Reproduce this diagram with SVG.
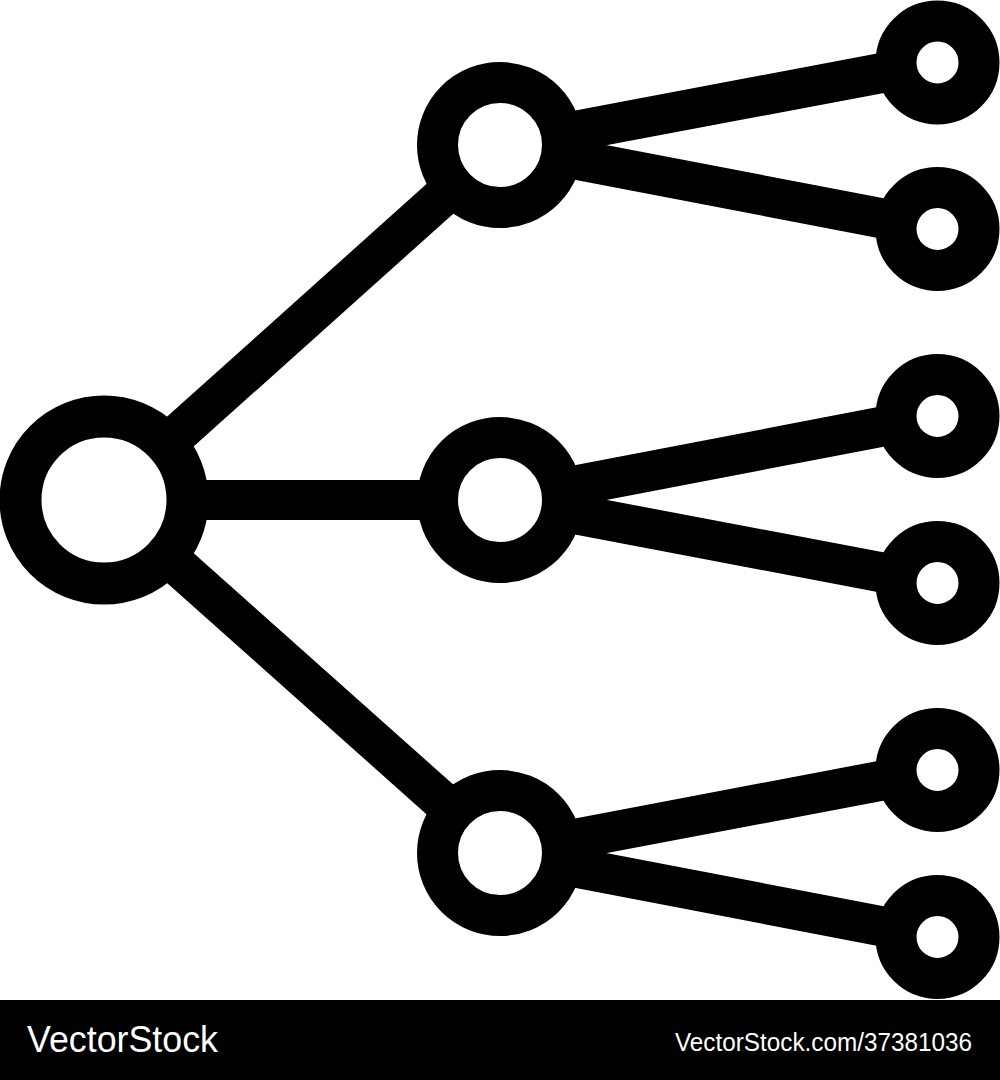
<svg xmlns="http://www.w3.org/2000/svg" width="1000" height="1080" viewBox="0 0 1000 1080">
<style>
.edge{stroke:#000;stroke-width:40;fill:none}
.root{fill:#fff;stroke:#000;stroke-width:42}
.mid{fill:#fff;stroke:#000;stroke-width:41}
.leaf{fill:#fff;stroke:#000;stroke-width:41}
.wm{fill:#fff;font-family:"Liberation Sans",Arial,sans-serif}
</style>
<rect width="1000" height="1080" fill="#fff"/>
<g id="connectors">
<line class="edge" x1="104" y1="500" x2="500" y2="145"/>
<line class="edge" x1="104" y1="500" x2="500" y2="500"/>
<line class="edge" x1="104" y1="500" x2="500" y2="853"/>
<line class="edge" x1="500" y1="145" x2="937.5" y2="62.5"/>
<line class="edge" x1="500" y1="145" x2="937.5" y2="229"/>
<line class="edge" x1="500" y1="500" x2="937.5" y2="416"/>
<line class="edge" x1="500" y1="500" x2="937.5" y2="583"/>
<line class="edge" x1="500" y1="853" x2="937.5" y2="770"/>
<line class="edge" x1="500" y1="853" x2="937.5" y2="937"/>
</g>
<g id="root"><circle class="root" cx="104" cy="500" r="83.5"/></g>
<g id="mid1"><circle class="mid" cx="500" cy="145" r="62.5"/></g>
<g id="mid2"><circle class="mid" cx="500" cy="500" r="62.5"/></g>
<g id="mid3"><circle class="mid" cx="500" cy="853" r="62.5"/></g>
<g id="leaf1"><circle class="leaf" cx="937.5" cy="62.5" r="41.5"/></g>
<g id="leaf2"><circle class="leaf" cx="937.5" cy="229" r="41.5"/></g>
<g id="leaf3"><circle class="leaf" cx="937.5" cy="416" r="41.5"/></g>
<g id="leaf4"><circle class="leaf" cx="937.5" cy="583" r="41.5"/></g>
<g id="leaf5"><circle class="leaf" cx="937.5" cy="770" r="41.5"/></g>
<g id="leaf6"><circle class="leaf" cx="937.5" cy="937" r="41.5"/></g>
<g id="watermark">
<rect x="0" y="1000" width="1000" height="80" fill="#000"/>
<text class="wm" x="27" y="1052" font-size="36" textLength="191" lengthAdjust="spacingAndGlyphs">VectorStock</text>
<text class="wm" x="675" y="1051" font-size="25" textLength="297" lengthAdjust="spacingAndGlyphs">VectorStock.com/37381036</text>
</g>
</svg>
